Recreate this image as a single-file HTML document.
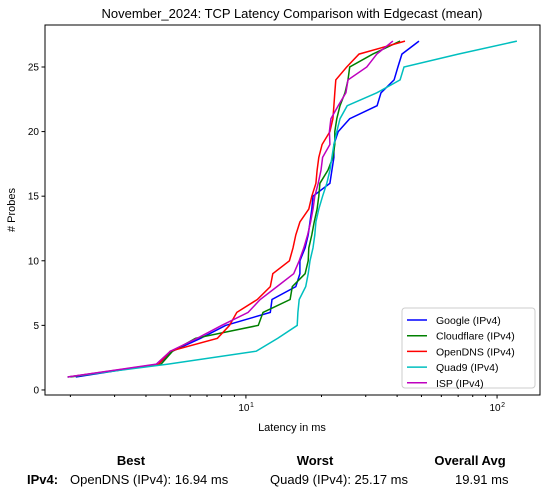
<!DOCTYPE html>
<html><head><meta charset="utf-8"><style>
body{margin:0;background:#fff;}
svg text{font-family:"Liberation Sans","DejaVu Sans",sans-serif;}
</style></head><body>
<svg id="chart" width="548" height="496" viewBox="0 0 548 496" xmlns="http://www.w3.org/2000/svg">
<rect width="548" height="496" fill="#fff"/>
<text x="292" y="18" font-size="13" text-anchor="middle">November_2024: TCP Latency Comparison with Edgecast (mean)</text>
<g id="plot"></g>
<rect x="45" y="25" width="495" height="370" fill="none" stroke="#000" stroke-width="1"/>
<text x="292" y="431" font-size="11" text-anchor="middle">Latency in ms</text>
<text x="15" y="210" font-size="11" text-anchor="middle" transform="rotate(-90 15 210)"># Probes</text>
<g id="legend">
<rect x="402" y="308" width="133" height="80" rx="3" fill="#fff" fill-opacity="0.8" stroke="#ccc"/>
</g>
<g font-size="13">
<text x="131" y="465" text-anchor="middle" font-weight="bold">Best</text>
<text x="315" y="465" text-anchor="middle" font-weight="bold">Worst</text>
<text x="470" y="465" text-anchor="middle" font-weight="bold">Overall Avg</text>
<text x="27" y="484" font-weight="bold">IPv4:</text>
<text x="70" y="484">OpenDNS (IPv4): 16.94 ms</text>
<text x="270" y="484">Quad9 (IPv4): 25.17 ms</text>
<text x="455" y="484">19.91 ms</text>
</g>
</svg>
<script>
const seriesNames = ["Google (IPv4)","Cloudflare (IPv4)","OpenDNS (IPv4)","Quad9 (IPv4)","ISP (IPv4)"];
const seriesColors = ["#0000ff","#008000","#ff0000","#00bfbf","#bf00bf"];
const probes = [1,2,3,4,5,6,7,8,9,10,11,12,13,14,15,16,17,18,19,20,21,22,23,24,25,26,27];
const google = [2.1,4.5,5.1,6.6,8.3,12.5,12.7,15.8,16.4,16.4,17.2,17.7,18.0,18.3,18.5,21.6,22.0,22.4,22.4,23.3,25.9,33.3,34.5,38.9,40.3,41.8,48.9];
const cloudflare = [2.0,4.6,5.1,6.3,11.2,11.7,15.0,15.3,17.2,17.7,17.8,18.3,18.7,19.2,19.5,19.7,21.2,22.2,22.6,22.6,23.0,23.7,24.8,25.5,25.9,32.0,41.1];
const opendns = [1.95,4.5,5.0,7.7,8.6,9.2,11.1,12.5,12.8,14.9,15.4,15.8,16.4,17.8,18.3,19.0,19.2,19.5,20.1,21.6,22.2,22.4,22.6,22.8,25.2,28.2,43.0];
const quad9 = [1.95,4.9,11.0,13.4,16.0,16.1,16.3,17.3,17.7,18.0,18.5,18.8,19.0,19.5,20.2,21.0,21.6,22.0,22.4,23.0,23.7,25.3,33.2,41.1,42.6,70.0,120.0];
const isp = [1.95,4.4,5.0,6.4,8.0,10.2,11.4,13.3,15.5,16.3,17.0,17.6,18.1,18.5,18.8,19.4,19.9,20.2,21.6,21.5,21.8,23.3,25.0,25.5,30.3,33.2,38.5];
const yTicks = [0,5,10,15,20,25];
const xMajor = [1,2];

const NS="http://www.w3.org/2000/svg";
const L=45,R=540,T=25,B=395;
const lmin=0.2,lmax=2.171,ymin=-0.39,ymax=28.25;
function xs(v){return L+(Math.log10(v)-lmin)/(lmax-lmin)*(R-L);}
function ys(v){return B-(v-ymin)/(ymax-ymin)*(B-T);}
const plot=document.getElementById('plot');
function mk(tag,attrs,parent){const e=document.createElementNS(NS,tag);for(const k in attrs)e.setAttribute(k,attrs[k]);(parent||plot).appendChild(e);return e;}
const allData=[google,cloudflare,opendns,quad9,isp];
allData.forEach((d,i)=>{
  const pts=d.map((v,j)=>xs(v).toFixed(1)+","+ys(probes[j]).toFixed(1)).join(" ");
  const pl=mk('polyline',{points:pts,fill:'none',stroke:seriesColors[i],'stroke-width':1.5});
  
  
});
yTicks.forEach(v=>{
  const y=ys(v);
  const t=mk('line',{x1:L-3.5,x2:L,y1:y,y2:y,stroke:'#000'});
  
  
  const tx=mk('text',{x:L-6,y:y+3.5,'font-size':10,'text-anchor':'end'});
  tx.textContent=v;
  
  
});
for(let e=0;e<=2;e++){for(let m=1;m<=9;m++){
  const v=m*Math.pow(10,e);const lv=Math.log10(v);
  if(lv<lmin||lv>lmax)continue;
  const x=xs(v);const major=(m===1);
  const t=mk('line',{x1:x,x2:x,y1:B,y2:B+(major?3.5:2),stroke:'#000'});
  
  
}}
xMajor.forEach(p=>{
  const x=xs(Math.pow(10,p));
  const tx=mk('text',{x:x-2,y:B+16,'font-size':10,'text-anchor':'middle'});
  tx.textContent='10';
  
  
  const sp=mk('text',{x:x+6,y:B+12,'font-size':7,'text-anchor':'middle'});
  sp.textContent=p;
  
  
});
const lg=document.getElementById('legend');
seriesNames.forEach((n,i)=>{
  const y=320+i*15.7;
  const ln=mk('line',{x1:407,x2:427,y1:y,y2:y,stroke:seriesColors[i],'stroke-width':1.5},lg);
  
  
  const tx=mk('text',{x:436,y:y+4,'font-size':10.5},lg);
  tx.textContent=n;
  
  
});
</script>
</body></html>
